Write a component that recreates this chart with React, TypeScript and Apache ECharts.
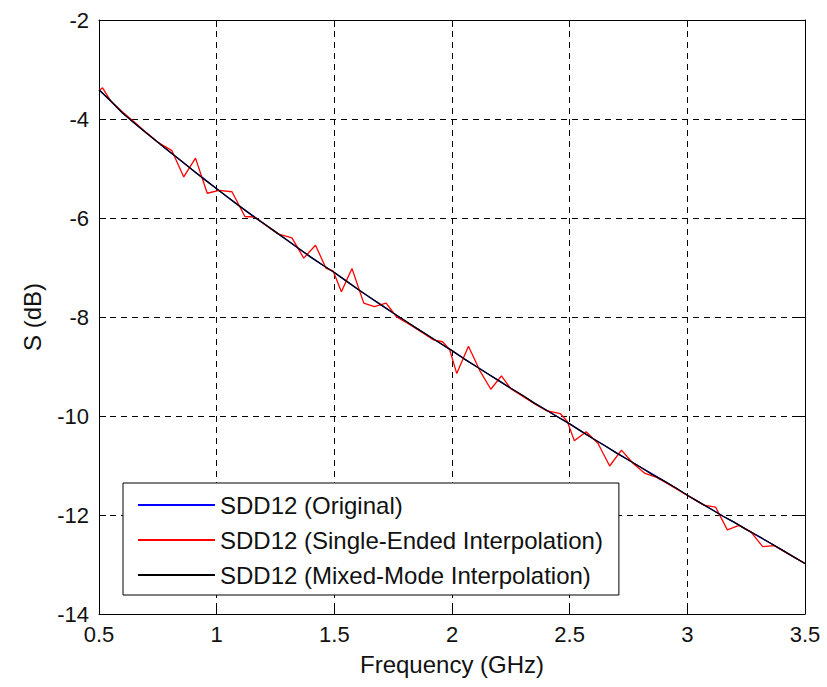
import React, { useEffect, useRef } from "react";
import * as echarts from "echarts";

const freqGHz = [
  0.5, 0.55, 0.6, 0.65, 0.7, 0.75, 0.8, 0.85, 0.9, 0.95,
  1.0, 1.05, 1.1, 1.15, 1.2, 1.25, 1.3, 1.35, 1.4, 1.45,
  1.5, 1.55, 1.6, 1.65, 1.7, 1.75, 1.8, 1.85, 1.9, 1.95,
  2.0, 2.05, 2.1, 2.15, 2.2, 2.25, 2.3, 2.35, 2.4, 2.45,
  2.5, 2.55, 2.6, 2.65, 2.7, 2.75, 2.8, 2.85, 2.9, 2.95,
  3.0, 3.05, 3.1, 3.15, 3.2, 3.25, 3.3, 3.35, 3.4, 3.45, 3.5,
];

const originalDb = [
  -3.41, -3.64, -3.88, -4.08, -4.28, -4.47, -4.66, -4.85, -5.04, -5.22,
  -5.41, -5.59, -5.77, -5.94, -6.11, -6.28, -6.45, -6.62, -6.79, -6.95,
  -7.1, -7.27, -7.44, -7.6, -7.76, -7.92, -8.08, -8.23, -8.38, -8.53,
  -8.68, -8.84, -8.99, -9.14, -9.29, -9.44, -9.59, -9.74, -9.88, -10.02,
  -10.16, -10.31, -10.46, -10.6, -10.75, -10.89, -11.03, -11.17, -11.31, -11.45,
  -11.6, -11.74, -11.88, -12.02, -12.15, -12.29, -12.43, -12.56, -12.7, -12.84, -12.98,
];

const mixedModeDb = [
  -3.41, -3.63, -3.88, -4.08, -4.28, -4.47, -4.66, -4.85, -5.04, -5.23,
  -5.41, -5.59, -5.77, -5.95, -6.11, -6.28, -6.45, -6.62, -6.79, -6.95,
  -7.1, -7.27, -7.44, -7.6, -7.76, -7.92, -8.07, -8.23, -8.38, -8.53,
  -8.68, -8.84, -8.99, -9.14, -9.29, -9.44, -9.58, -9.74, -9.88, -10.02,
  -10.16, -10.31, -10.46, -10.6, -10.75, -10.89, -11.03, -11.18, -11.31, -11.45,
  -11.6, -11.74, -11.88, -12.02, -12.15, -12.29, -12.42, -12.56, -12.7, -12.84, -12.98,
];

const singleEndedFreqGHz = [
  0.5, 0.515, 0.55, 0.6, 0.65, 0.7, 0.75, 0.81, 0.86, 0.91,
  0.96, 1.01, 1.065, 1.12, 1.16, 1.21, 1.26, 1.32, 1.37, 1.42,
  1.465, 1.495, 1.53, 1.575, 1.625, 1.67, 1.72, 1.765, 1.82, 1.87,
  1.92, 1.96, 1.99, 2.02, 2.07, 2.12, 2.165, 2.21, 2.25, 2.3,
  2.35, 2.4, 2.46, 2.49, 2.52, 2.57, 2.62, 2.67, 2.72, 2.77,
  2.82, 2.87, 2.92, 2.97, 3.02, 3.07, 3.12, 3.17, 3.22, 3.27,
  3.32, 3.37, 3.42, 3.5,
];

const singleEndedDb = [
  -3.43, -3.37, -3.64, -3.86, -4.06, -4.27, -4.47, -4.64, -5.17, -4.79,
  -5.5, -5.44, -5.47, -5.97, -5.98, -6.15, -6.32, -6.4, -6.81, -6.55,
  -7.02, -7.07, -7.49, -7.02, -7.72, -7.79, -7.72, -8.0, -8.15, -8.3,
  -8.46, -8.5, -8.66, -9.14, -8.59, -9.1, -9.46, -9.19, -9.45, -9.6,
  -9.75, -9.89, -9.95, -10.11, -10.5, -10.32, -10.55, -11.01, -10.69, -10.96,
  -11.16, -11.24, -11.38, -11.52, -11.66, -11.8, -11.84, -12.3, -12.21, -12.34,
  -12.64, -12.62, -12.76, -12.98,
];

const xTicks = { min: 0.5, max: 3.5, interval: 0.5 };
const yTicks = { min: -14, max: -2, interval: 2 };

const FONT = "'Liberation Sans', Arial, Helvetica, sans-serif";

export default function App() {
  const ref = useRef<HTMLDivElement>(null);

  useEffect(() => {
    if (!ref.current) return;
    const chart = echarts.init(ref.current, undefined, { renderer: "svg" });

    const pair = (xs: number[], ys: number[]) => xs.map((x, i) => [x, ys[i]]);

    const tickInside = { show: true, inside: true, length: 7, lineStyle: { color: "#000", width: 1 } };
    const grid = { show: true, lineStyle: { color: "#000", width: 1, type: [6, 5] } };

    chart.setOption({
      animation: false,
      backgroundColor: "#fff",
      textStyle: { fontFamily: FONT },
      grid: { left: 99, right: 22, top: 20, bottom: 73, containLabel: false },
      xAxis: [
        {
          type: "value",
          position: "bottom",
          ...xTicks,
          name: "Frequency (GHz)",
          nameLocation: "middle",
          nameGap: 38,
          nameTextStyle: { fontSize: 24, color: "#111", fontFamily: FONT },
          axisLine: { show: true, lineStyle: { color: "#000", width: 1 } },
          axisTick: tickInside,
          axisLabel: { fontSize: 22, color: "#111", margin: 9, fontFamily: FONT },
          splitLine: grid,
        },
        {
          type: "value",
          position: "top",
          ...xTicks,
          axisLine: { show: true, lineStyle: { color: "#000", width: 1 } },
          axisTick: tickInside,
          axisLabel: { show: false },
          splitLine: { show: false },
        },
      ],
      yAxis: [
        {
          type: "value",
          position: "left",
          ...yTicks,
          name: "S (dB)",
          nameLocation: "middle",
          nameGap: 55,
          nameTextStyle: { fontSize: 24, color: "#111", fontFamily: FONT },
          axisLine: { show: true, lineStyle: { color: "#000", width: 1 } },
          axisTick: tickInside,
          axisLabel: { fontSize: 22, color: "#111", margin: 10, fontFamily: FONT },
          splitLine: grid,
        },
        {
          type: "value",
          position: "right",
          ...yTicks,
          axisLine: { show: true, lineStyle: { color: "#000", width: 1 } },
          axisTick: tickInside,
          axisLabel: { show: false },
          splitLine: { show: false },
        },
      ],
      legend: {
        show: true,
        orient: "vertical",
        left: 123,
        top: 483,
        padding: [8, 16, 6, 15],
        itemGap: 7,
        itemWidth: 77,
        itemHeight: 2,
        icon: "rect",
        backgroundColor: "#fff",
        borderColor: "#000",
        borderWidth: 1,
        borderRadius: 0,
        textStyle: { fontSize: 24, color: "#111", fontFamily: FONT, lineHeight: 28 },
        data: [
          "SDD12 (Original)",
          "SDD12 (Single-Ended Interpolation)",
          "SDD12 (Mixed-Mode Interpolation)",
        ],
      },
      series: [
        {
          name: "SDD12 (Original)",
          type: "line",
          data: pair(freqGHz, originalDb),
          showSymbol: false,
          lineStyle: { color: "#0000ff", width: 1.3 },
          itemStyle: { color: "#0000ff" },
        },
        {
          name: "SDD12 (Single-Ended Interpolation)",
          type: "line",
          data: pair(singleEndedFreqGHz, singleEndedDb),
          showSymbol: false,
          lineStyle: { color: "#ff0000", width: 1.3 },
          itemStyle: { color: "#ff0000" },
        },
        {
          name: "SDD12 (Mixed-Mode Interpolation)",
          type: "line",
          data: pair(freqGHz, mixedModeDb),
          showSymbol: false,
          lineStyle: { color: "#000000", width: 1.3 },
          itemStyle: { color: "#000000" },
        },
      ],
    });

    return () => chart.dispose();
  }, []);

  return (
    <div
      ref={ref}
      style={{ position: "fixed", left: 0, top: 0, width: 827, height: 687, background: "#fff" }}
    />
  );
}
